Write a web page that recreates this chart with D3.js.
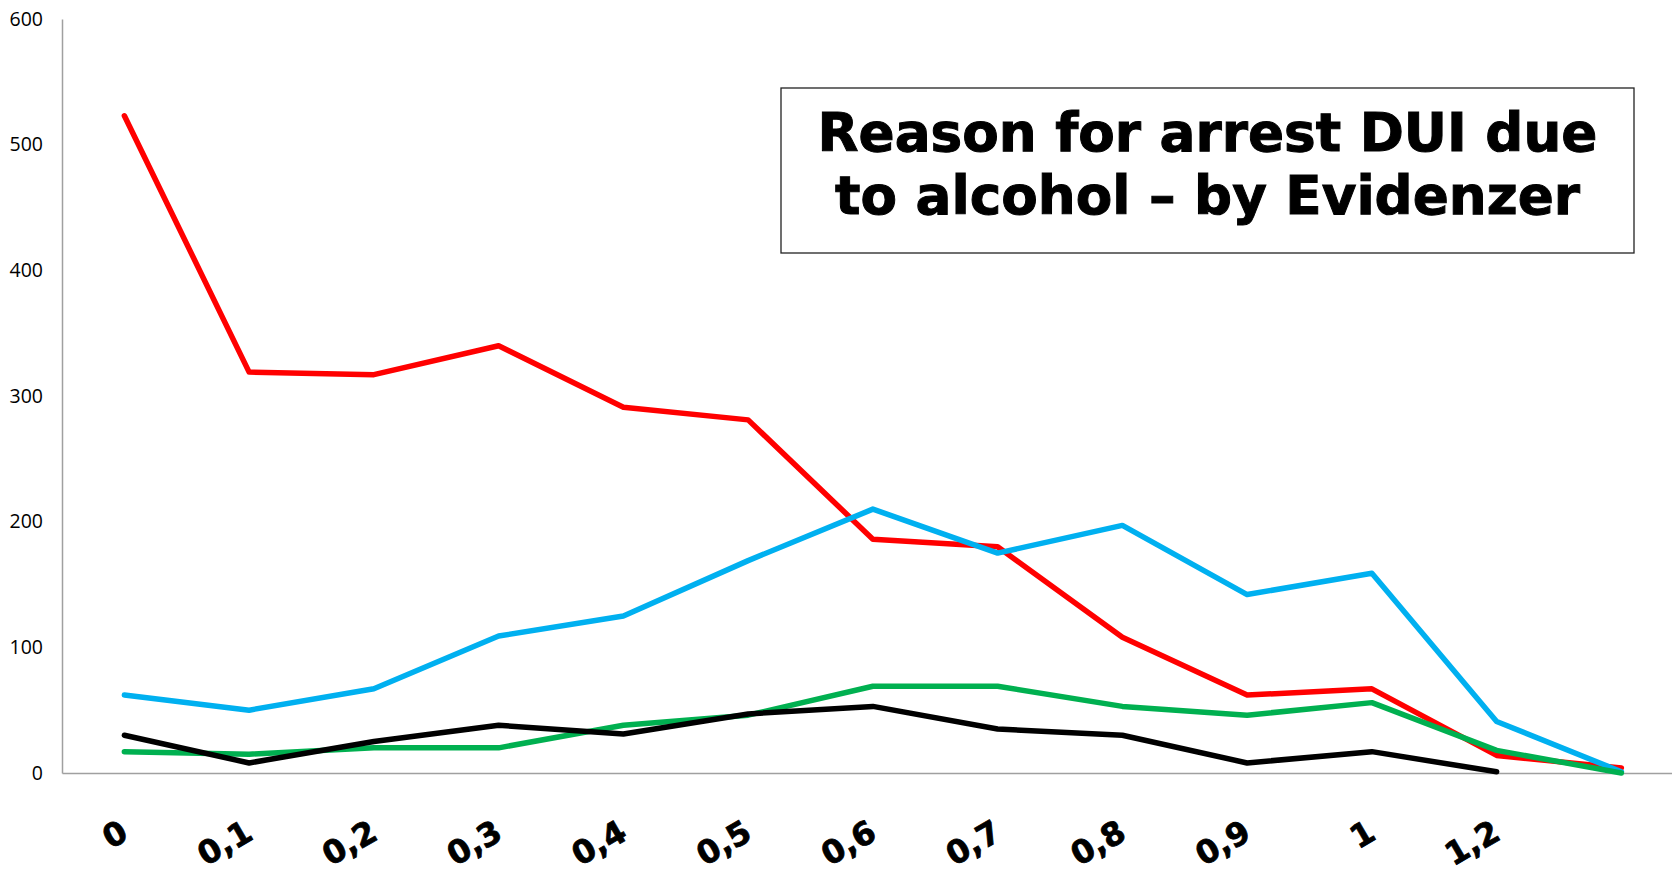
<!DOCTYPE html>
<html>
<head>
<meta charset="utf-8">
<script src="https://cdn.jsdelivr.net/npm/d3@7"></script>
<style>
  body { margin: 0; background: #fff; }
  svg { display: block; }
</style>
</head>
<body>
<div id="root"></div>
<script>
const width = 1672;
const height = 875;

// categories (alcohol level), the last one has no label
const categories = ["0", "0,1", "0,2", "0,3", "0,4", "0,5", "0,6", "0,7", "0,8", "0,9", "1", "1,2", ""];
const yTicks = [0, 100, 200, 300, 400, 500, 600];

const redValues   = [523, 319, 317, 340, 291, 281, 186, 180, 108, 62, 67, 14, 4];
const blueValues  = [62, 50, 67, 109, 125, 169, 210, 175, 197, 142, 159, 41, 1];
const greenValues = [17, 15, 20, 20, 38, 46, 69, 69, 53, 46, 56, 18, 0];
const blackValues = [30, 8, 25, 38, 31, 47, 53, 35, 30, 8, 17, 1, null];

const series = [
	{ name: "red", color: "#ff0000", values: redValues },
	{ name: "blue", color: "#00b0f0", values: blueValues },
	{ name: "green", color: "#00b050", values: greenValues },
	{ name: "black", color: "#000000", values: blackValues }
];

const titleLines = ["Reason for arrest DUI due", "to alcohol \u2013 by Evidenzer"];

const plot = { left: 62, top: 19, bottom: 773, step: 124.75 };

const svg = d3.select("#root")
	.append("svg")
		.attr("width", width)
		.attr("height", height);

const x = d3.scalePoint()
	.domain(categories.map((d, i) => i))
	.range([plot.left, plot.left + plot.step * categories.length])
	.padding(0.5);

const y = d3.scaleLinear()
	.domain([0, 600])
	.range([plot.bottom, plot.top]);

// y axis
const yAxis = svg.append("g")
	.attr("transform", `translate(${plot.left}, 0)`)
	.call(d3.axisLeft(y).tickValues(yTicks).tickSize(0).tickSizeOuter(0).tickPadding(19));
yAxis.select(".domain").attr("stroke", "#a0a0a0").attr("stroke-width", 1.5);
yAxis.selectAll("text")
	.style("font-family", "'Open Sans', sans-serif")
	.style("font-size", "19.5px")
	.attr("fill", "#000");

// x axis
const xAxis = svg.append("g")
	.attr("transform", `translate(0, ${plot.bottom})`)
	.call(d3.axisBottom(x).tickSize(0).tickSizeOuter(0).tickFormat(() => ""));
xAxis.select(".domain").attr("stroke", "#a0a0a0").attr("stroke-width", 1.5);

svg.append("g")
	.selectAll("text")
	.data(categories.map((c, i) => ({ c, i })).filter(d => d.c !== ""))
	.enter()
	.append("text")
		.attr("transform", d => `translate(${x(d.i) - 6}, 818) rotate(-30)`)
		.attr("text-anchor", "end")
		.attr("dy", "0.73em")
		.style("font-family", "'DejaVu Sans', Verdana, sans-serif")
		.style("font-weight", "bold")
		.style("font-size", "32px")
		.attr("stroke", "#000")
		.attr("stroke-width", 0.8)
		.text(d => d.c);

// lines
const line = d3.line()
	.defined(d => d != null)
	.x((d, i) => x(i))
	.y(d => y(d));

svg.append("g")
	.selectAll("path")
	.data(series)
	.enter()
	.append("path")
		.attr("d", d => line(d.values))
		.attr("fill", "none")
		.attr("stroke", d => d.color)
		.attr("stroke-width", 5.5)
		.attr("stroke-linejoin", "round")
		.attr("stroke-linecap", "round");

// title box
svg.append("rect")
	.attr("x", 781)
	.attr("y", 88)
	.attr("width", 853)
	.attr("height", 165)
	.attr("fill", "#fff")
	.attr("stroke", "#222")
	.attr("stroke-width", 1.3);

const title = svg.append("g")
	.selectAll("text")
	.data(titleLines)
	.enter()
	.append("text")
		.attr("x", 1207.5)
		.attr("y", (d, i) => 151 + i * 63)
		.attr("text-anchor", "middle")
		.style("font-family", "'DejaVu Sans', Verdana, sans-serif")
		.style("font-weight", "bold")
		.style("font-size", "53px")
		.attr("stroke", "#000")
		.attr("stroke-width", 1)
		.text(d => d);

// fit first line to ~780px wide like the reference
const firstWidth = title.nodes()[0].getComputedTextLength();
const fitSize = 53 * 780 / firstWidth;
title.style("font-size", `${fitSize}px`);
</script>
</body>
</html>
